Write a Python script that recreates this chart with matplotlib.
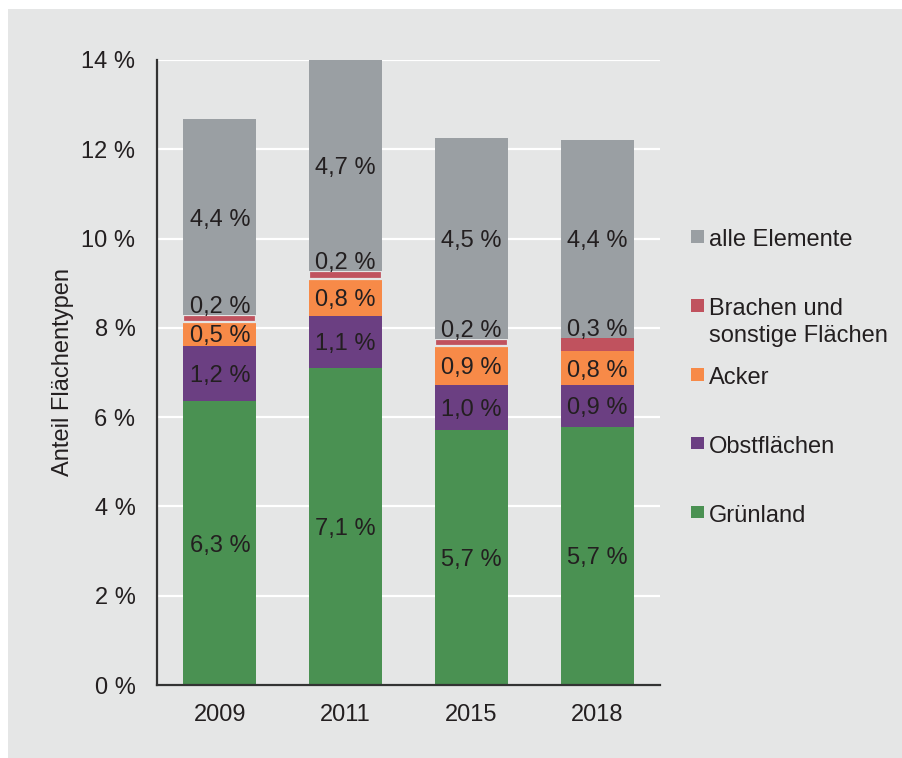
import matplotlib
matplotlib.use("Agg")
import matplotlib.pyplot as plt
from matplotlib.patches import Rectangle

# ---- data ----
years = ["2009", "2011", "2015", "2018"]
gruenland = [6.36, 7.10, 5.71, 5.78]
obst = [1.23, 1.17, 1.01, 0.94]
acker = [0.55, 0.82, 0.87, 0.76]
brachen = [0.14, 0.19, 0.16, 0.30]
alle = [4.40, 4.72, 4.50, 4.43]

lab_gruen = ["6,3 %", "7,1 %", "5,7 %", "5,7 %"]
lab_obst = ["1,2 %", "1,1 %", "1,0 %", "0,9 %"]
lab_acker = ["0,5 %", "0,8 %", "0,9 %", "0,8 %"]
lab_brachen = ["0,2 %", "0,2 %", "0,2 %", "0,3 %"]
lab_alle = ["4,4 %", "4,7 %", "4,5 %", "4,4 %"]

series_names = ["Grünland", "Obstflächen", "Acker",
                "Brachen und\nsonstige Flächen", "alle Elemente"]
yticks = [0, 2, 4, 6, 8, 10, 12, 14]
ytick_labels = ["0 %", "2 %", "4 %", "6 %", "8 %", "10 %", "12 %", "14 %"]
ylabel = "Anteil Flächentypen"

# ---- style ----
colors = ["#4a9152", "#6b3f82", "#f78a48", "#c0525e", "#9a9fa3"]
BG = "#e5e6e6"
TXT = "#231f20"
FS = 17

plt.rcParams["font.family"] = ["Liberation Sans", "DejaVu Sans"]

W, H = 902, 758
fig = plt.figure(figsize=(W / 100, H / 100), dpi=100, facecolor="white")
fig.add_artist(Rectangle((8 / W, 0), 1 - 8 / W, 1 - 9 / H,
                         transform=fig.transFigure, facecolor=BG,
                         edgecolor="none", zorder=-10))

ax = fig.add_axes([157 / W, 1 - 685 / H, (660 - 157) / W, (685 - 60) / H])
ax.set_facecolor(BG)

x = list(range(len(years)))
width = 0.58
series = [gruenland, obst, acker, brachen, alle]
labels = [lab_gruen, lab_obst, lab_acker, lab_brachen, lab_alle]

bottom = [0.0] * len(years)
for i, (vals, labs) in enumerate(zip(series, labels)):
    if i == 3:
        ec = [BG, BG, BG, "none"]
        lw = [1.6, 1.6, 1.6, 0]
    else:
        ec = "none"
        lw = 0
    ax.bar(x, vals, width, bottom=bottom, color=colors[i],
           edgecolor=ec, linewidth=lw, zorder=3)
    for xi, v, b, t in zip(x, vals, bottom, labs):
        if i == 3:
            ax.annotate(t, (xi, b + v), xytext=(0, 7.5),
                        textcoords="offset points", ha="center",
                        va="center_baseline", fontsize=FS, color=TXT,
                        zorder=5)
        else:
            ax.text(xi, b + v / 2, t, ha="center", va="center_baseline",
                    fontsize=FS, color=TXT, zorder=5)
    bottom = [b + v for b, v in zip(bottom, vals)]

ax.set_xlim(-0.5, 3.5)
ax.set_ylim(0, 14)
ax.set_xticks(x)
ax.set_xticklabels(years)
ax.set_yticks(yticks)
ax.set_yticklabels(ytick_labels)
ax.tick_params(axis="both", length=0, labelsize=FS, labelcolor=TXT)
ax.tick_params(axis="y", pad=15.5)
ax.tick_params(axis="x", pad=14)

ax.yaxis.grid(True, color="white", linewidth=1.6)
ax.set_axisbelow(True)
for s in ["top", "right"]:
    ax.spines[s].set_visible(False)
for s in ["left", "bottom"]:
    ax.spines[s].set_color("#333333")
    ax.spines[s].set_linewidth(1.6)
    ax.spines[s].set_zorder(6)

ax.set_ylabel(ylabel, fontsize=FS, color=TXT, va="center")
ax.yaxis.set_label_coords(-0.187, 0.5)

# ---- legend (top to bottom: reversed series order) ----
sq = 12.5
line_gap = 27
for k, idx in enumerate(range(len(series_names) - 1, -1, -1)):
    cy = 236.5 + 68.9 * k
    fig.add_artist(Rectangle(((697.3 - sq / 2) / W, 1 - (cy + sq / 2) / H),
                             sq / W, sq / H, transform=fig.transFigure,
                             facecolor=colors[idx], edgecolor="none"))
    for j, line in enumerate(series_names[idx].split("\n")):
        fig.text(709 / W, 1 - (cy + 1 + j * line_gap) / H, line, ha="left",
                 va="center_baseline", fontsize=FS, color=TXT)

fig.savefig("out.png", dpi=100, facecolor=fig.get_facecolor())
